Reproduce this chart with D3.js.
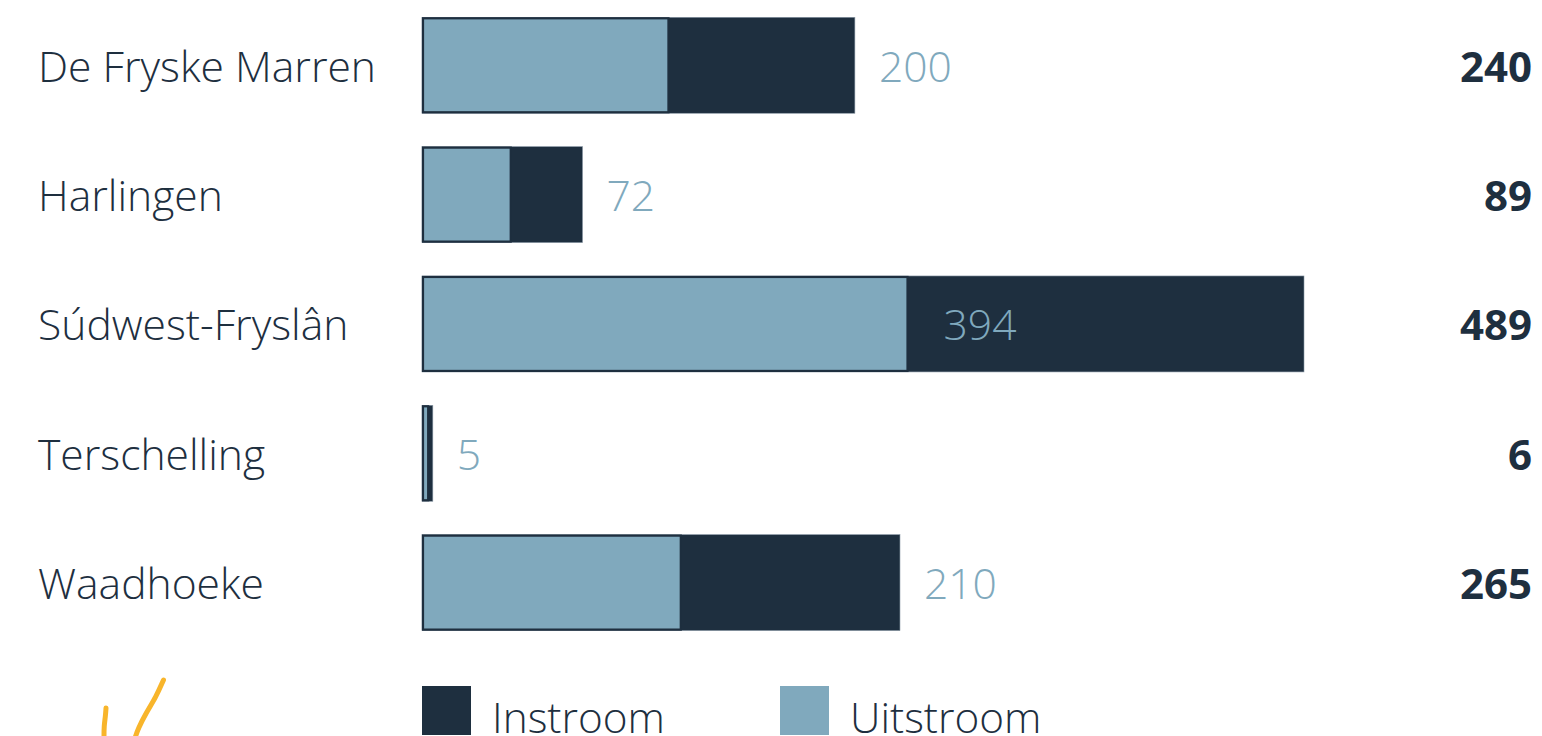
<!DOCTYPE html>
<html>
<head>
<meta charset="utf-8">
<script src="https://cdn.jsdelivr.net/npm/d3@7"></script>
<style>
  html, body { margin: 0; padding: 0; background: #ffffff; overflow: hidden; }
  svg { display: block; }
  text { font-family: "Open Sans", "Noto Sans", sans-serif; }
</style>
</head>
<body>
<svg id="chart" width="1542" height="736"></svg>
<script>
// ---- data ----
const categories = ["De Fryske Marren", "Harlingen", "Súdwest-Fryslân", "Terschelling", "Waadhoeke"];
const instroom = [240, 89, 489, 6, 265];
const uitstroom = [200, 72, 394, 5, 210];
const legendLabels = ["Instroom", "Uitstroom"];

// ---- style ----
const DARK = "#1e2f3f";
const LIGHT = "#80a9bd";
const x0 = 422;

const svg = d3.select("#chart");

const y = d3.scaleBand()
  .domain(categories)
  .range([17.3, 630.6])
  .paddingInner(0.258)
  .paddingOuter(0);

const xIn = d3.scaleLinear().domain([0, d3.max(instroom)]).range([0, 882]);
const xOut = d3.scaleLinear().domain([0, d3.max(uitstroom)]).range([0, 485.5]);

const rows = categories.map((c, i) => ({ cat: c, tin: instroom[i], tout: uitstroom[i] }));

const g = svg.append("g");

// dark (Instroom) bars
g.selectAll("rect.in").data(rows).join("rect")
  .attr("class", "in")
  .attr("x", x0)
  .attr("y", d => y(d.cat))
  .attr("width", d => xIn(d.tin))
  .attr("height", y.bandwidth())
  .attr("fill", DARK)
  .attr("stroke", "#8796a3")
  .attr("stroke-width", 0.6);

// light (Uitstroom) bars
g.selectAll("rect.out").data(rows).join("rect")
  .attr("class", "out")
  .attr("x", x0 + 1)
  .attr("y", d => y(d.cat) + 1)
  .attr("width", d => Math.max(0, xOut(d.tout) - 1))
  .attr("height", y.bandwidth() - 2)
  .attr("fill", LIGHT)
  .attr("stroke", DARK)
  .attr("stroke-width", 2.2);

// category labels
g.selectAll("text.cat").data(rows).join("text")
  .attr("class", "cat")
  .attr("x", 38)
  .attr("y", d => y(d.cat) + y.bandwidth() / 2 + 16.5)
  .attr("font-size", 42.6)
  .attr("font-weight", 300)
  .attr("fill", DARK)
  .text(d => d.cat);

// uitstroom value labels
g.selectAll("text.val").data(rows).join("text")
  .attr("class", "val")
  .attr("x", d => d.tin >= 400 ? x0 + xOut(d.tout) + 36 : x0 + xIn(d.tin) + 24)
  .attr("y", d => y(d.cat) + y.bandwidth() / 2 + 16.5)
  .attr("font-size", 42.6)
  .attr("font-weight", 300)
  .attr("fill", LIGHT)
  .text(d => d.tout);

// totals (instroom)
g.selectAll("text.tot").data(rows).join("text")
  .attr("class", "tot")
  .attr("x", 1532)
  .attr("y", d => y(d.cat) + y.bandwidth() / 2 + 16.5)
  .attr("text-anchor", "end")
  .attr("font-size", 42)
  .attr("font-weight", 700)
  .attr("fill", DARK)
  .text(d => d.tin);

// legend
const legendX = [422, 780];
const legendColors = [DARK, LIGHT];
const lg = svg.append("g");
legendLabels.forEach((lab, i) => {
  lg.append("rect")
    .attr("x", legendX[i]).attr("y", 686)
    .attr("width", 49).attr("height", 49)
    .attr("fill", legendColors[i]);
  lg.append("text")
    .attr("x", legendX[i] + 70).attr("y", 733)
    .attr("font-size", 42.3)
    .attr("font-weight", 300)
    .attr("fill", DARK)
    .text(lab);
});

// hand-drawn yellow mark
const mark = svg.append("g")
  .attr("fill", "none")
  .attr("stroke", "#f8b52b")
  .attr("stroke-width", 5)
  .attr("stroke-linecap", "round")
  .attr("stroke-linejoin", "round");
const line = d3.line().curve(d3.curveBasis);
mark.append("path").attr("d", line([[106, 708], [105.5, 716], [104, 726], [104, 738]]));
mark.append("path").attr("d", line([[163.5, 680], [156, 697], [146, 713], [138, 729], [135, 738]]));
</script>
</body>
</html>
